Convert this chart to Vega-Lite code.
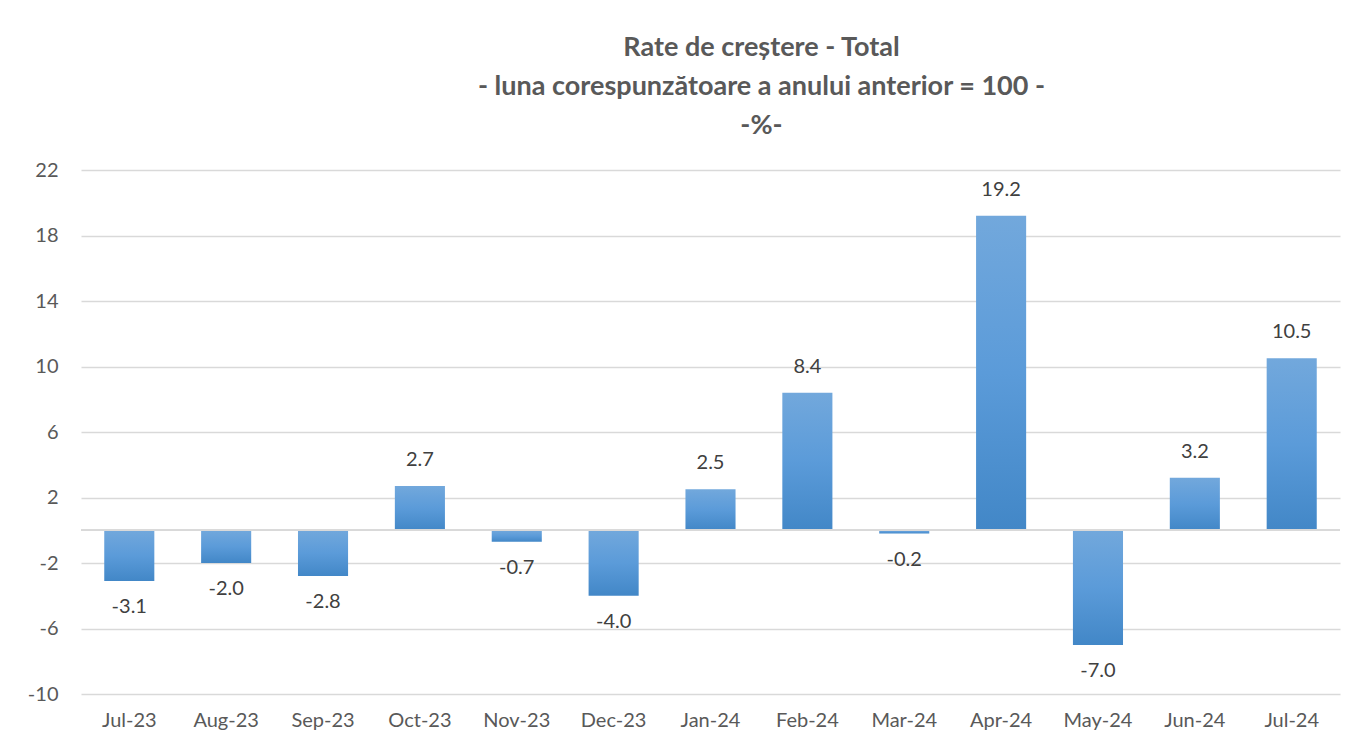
{
  "$schema": "https://vega.github.io/schema/vega-lite/v6.json",
  "width": 1259,
  "height": 524,
  "autosize": {"type": "none"},
  "padding": {"left": 81, "top": 170, "right": 20, "bottom": 53},
  "background": "white",
  "config": {
    "view": {"stroke": null},
    "locale": {
      "number": {"decimal": ".", "thousands": ",", "grouping": [3], "currency": ["", ""], "minus": "-"}
    }
  },
  "title": {
    "text": ["Rate de creștere - Total", "- luna corespunzătoare a anului anterior = 100 -", "-%-"],
    "anchor": "middle",
    "frame": "group",
    "dx": 51,
    "offset": 20,
    "font": "Lato",
    "fontSize": 27,
    "fontWeight": "bold",
    "color": "#595959",
    "lineHeight": 39
  },
  "data": {
    "values": [
      {"month": "Jul-23", "v": -3.1},
      {"month": "Aug-23", "v": -2.0},
      {"month": "Sep-23", "v": -2.8},
      {"month": "Oct-23", "v": 2.7},
      {"month": "Nov-23", "v": -0.7},
      {"month": "Dec-23", "v": -4.0},
      {"month": "Jan-24", "v": 2.5},
      {"month": "Feb-24", "v": 8.4},
      {"month": "Mar-24", "v": -0.2},
      {"month": "Apr-24", "v": 19.2},
      {"month": "May-24", "v": -7.0},
      {"month": "Jun-24", "v": 3.2},
      {"month": "Jul-24", "v": 10.5}
    ]
  },
  "encoding": {
    "x": {
      "field": "month",
      "type": "nominal",
      "sort": null,
      "scale": {"paddingInner": 0.483, "paddingOuter": 0.24},
      "axis": {
        "title": null,
        "labelAngle": 0,
        "domain": false,
        "ticks": false,
        "labelPadding": 16,
        "labelFont": "Lato",
        "labelFontSize": 20,
        "labelColor": "#595959"
      }
    },
    "y": {
      "field": "v",
      "type": "quantitative",
      "scale": {"domain": [-10, 22], "nice": false, "zero": false},
      "axis": {
        "title": null,
        "values": [-10, -6, -2, 2, 6, 10, 14, 18, 22],
        "domain": false,
        "ticks": false,
        "labelPadding": 23,
        "labelFont": "Lato",
        "labelFontSize": 20,
        "labelColor": "#595959",
        "gridColor": "#d9d9d9",
        "gridWidth": 1.5
      }
    }
  },
  "layer": [
    {
      "mark": {
        "type": "bar",
        "color": {
          "gradient": "linear",
          "x1": 0, "y1": 0, "x2": 0, "y2": 1,
          "stops": [
            {"offset": 0, "color": "#72a8dc"},
            {"offset": 0.5, "color": "#5b9bd9"},
            {"offset": 1, "color": "#4287c7"}
          ]
        }
      },
      "encoding": {"y2": {"datum": 0}}
    },
    {
      "mark": {"type": "rule", "color": "#d9d9d9", "strokeWidth": 1.5},
      "encoding": {"y": {"datum": 0}, "x": null}
    },
    {
      "transform": [{"filter": "datum.v >= 0"}],
      "mark": {"type": "text", "baseline": "middle", "dy": -26, "font": "Lato", "fontSize": 20, "color": "#404040"},
      "encoding": {"text": {"field": "v", "type": "quantitative", "format": ".1f"}}
    },
    {
      "transform": [{"filter": "datum.v < 0"}],
      "mark": {"type": "text", "baseline": "middle", "dy": 26, "font": "Lato", "fontSize": 20, "color": "#404040"},
      "encoding": {"text": {"field": "v", "type": "quantitative", "format": ".1f"}}
    }
  ]
}
